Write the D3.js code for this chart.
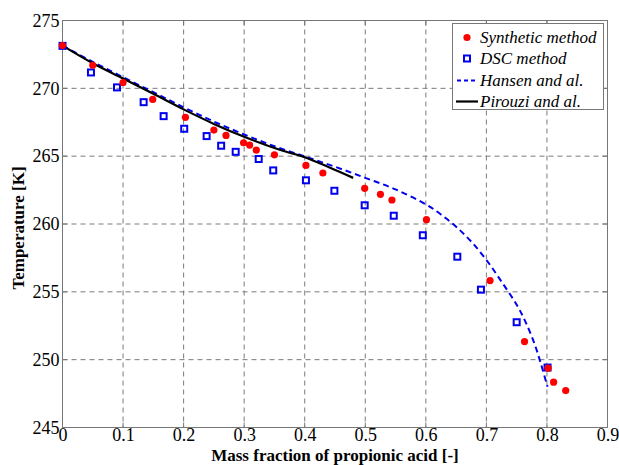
<!DOCTYPE html>
<html><head><meta charset="utf-8">
<script src="https://cdn.jsdelivr.net/npm/d3@7"></script>
<style>body{margin:0;background:#fff}svg{display:block}text{font-family:'Liberation Serif','Times New Roman',serif}</style>
</head><body>
<script>
const synX = [0, 0.05, 0.10, 0.149, 0.203, 0.250, 0.270, 0.299, 0.309, 0.320, 0.350, 0.402, 0.430, 0.499, 0.525, 0.544, 0.601, 0.706, 0.763, 0.802, 0.811, 0.831];
const synT = [273.15, 271.7, 270.43, 269.18, 267.86, 266.92, 266.53, 265.99, 265.82, 265.45, 265.10, 264.32, 263.76, 262.63, 262.19, 261.77, 260.32, 255.83, 251.33, 249.37, 248.34, 247.72];
const dscX = [0, 0.047, 0.090, 0.134, 0.167, 0.201, 0.238, 0.262, 0.286, 0.324, 0.348, 0.402, 0.449, 0.499, 0.547, 0.595, 0.652, 0.691, 0.750, 0.801];
const dscT = [273.13, 271.17, 270.07, 268.98, 267.95, 267.02, 266.48, 265.77, 265.32, 264.79, 263.95, 263.22, 262.45, 261.38, 260.61, 259.17, 257.59, 255.16, 252.76, 249.42];
const hanX = [0, 0.05, 0.10, 0.15, 0.20, 0.25, 0.30, 0.35, 0.40, 0.45, 0.50, 0.55, 0.60, 0.625, 0.65, 0.675, 0.70, 0.725, 0.75, 0.765, 0.78, 0.79, 0.801];
const hanT = [273.15, 271.95, 270.82, 269.72, 268.6, 267.55, 266.6, 265.73, 264.98, 264.22, 263.4, 262.55, 261.45, 260.7, 259.8, 258.7, 257.35, 255.75, 254.05, 252.75, 251.1, 249.7, 248.0];
const pirX = [0, 0.05, 0.10, 0.15, 0.20, 0.25, 0.30, 0.36, 0.40, 0.44, 0.48];
const pirT = [273.15, 271.85, 270.73, 269.6, 268.45, 267.38, 266.43, 265.45, 264.92, 264.18, 263.4];
const xTicks = [0, 0.1, 0.2, 0.3, 0.4, 0.5, 0.6, 0.7, 0.8, 0.9];
const yTicks = [245, 250, 255, 260, 265, 270, 275];
const legendLabels = ["Synthetic method", "DSC method", "Hansen and al.", "Pirouzi and al."];

const W = 619, H = 465;
const m = {l: 62.5, r: 11.5, t: 20.5, b: 37.5};
const svg = d3.select("body").append("svg").attr("width", W).attr("height", H);
const x = d3.scaleLinear().domain([0, 0.9]).range([m.l, W - m.r]);
const y = d3.scaleLinear().domain([245, 275]).range([H - m.b, m.t]);
const serif = "'Liberation Serif','Times New Roman',serif";

// grid
const g = svg.append("g");
g.selectAll(".gx").data(xTicks.slice(1, -1)).enter().append("line")
  .attr("x1", d => x(d)).attr("x2", d => x(d)).attr("y1", m.t).attr("y2", H - m.b)
  .attr("stroke", "#7a7a7a").attr("stroke-width", 1).attr("stroke-dasharray", "5,4");
g.selectAll(".gy").data(yTicks.slice(1, -1)).enter().append("line")
  .attr("y1", d => y(d)).attr("y2", d => y(d)).attr("x1", m.l).attr("x2", W - m.r)
  .attr("stroke", "#7a7a7a").attr("stroke-width", 1).attr("stroke-dasharray", "5,4");

// axes
const xAxis = d3.axisBottom(x).tickValues(xTicks).tickSize(0).tickPadding(1).tickFormat(d => d === 0 ? "0" : d3.format(".1f")(d));
const yAxis = d3.axisLeft(y).tickValues(yTicks).tickSize(0).tickPadding(3).tickFormat(d3.format("d"));
const gx = svg.append("g").attr("transform", `translate(0,${H - m.b})`).call(xAxis);
const gy = svg.append("g").attr("transform", `translate(${m.l},0)`).call(yAxis);
[gx, gy].forEach(a => {
  a.attr("font-family", null).attr("font-size", null);
  a.select(".domain").remove();
  a.selectAll("text").style("font-family", serif).style("font-size", "18px").attr("fill", "#000");
});
// inward ticks
svg.selectAll(".tb").data(xTicks.slice(1, -1)).enter().append("line")
  .attr("x1", d => x(d)).attr("x2", d => x(d)).attr("y1", H - m.b).attr("y2", H - m.b - 5).attr("stroke", "#777");
svg.selectAll(".tt").data(xTicks.slice(1, -1)).enter().append("line")
  .attr("x1", d => x(d)).attr("x2", d => x(d)).attr("y1", m.t).attr("y2", m.t + 5).attr("stroke", "#777");
svg.selectAll(".tl").data(yTicks.slice(1, -1)).enter().append("line")
  .attr("y1", d => y(d)).attr("y2", d => y(d)).attr("x1", m.l).attr("x2", m.l + 5).attr("stroke", "#777");
svg.selectAll(".tr").data(yTicks.slice(1, -1)).enter().append("line")
  .attr("y1", d => y(d)).attr("y2", d => y(d)).attr("x1", W - m.r).attr("x2", W - m.r - 5).attr("stroke", "#777");
// frame
svg.append("rect").attr("x", m.l).attr("y", m.t).attr("width", W - m.r - m.l).attr("height", H - m.b - m.t)
  .attr("fill", "none").attr("stroke", "#777").attr("stroke-width", 1);

// lines
const line = d3.line().x(d => x(d[0])).y(d => y(d[1])).curve(d3.curveCatmullRom.alpha(0.5));
svg.append("path").datum(hanX.map((v, i) => [v, hanT[i]])).attr("d", line)
  .attr("fill", "none").attr("stroke", "#0000ee").attr("stroke-width", 2).attr("stroke-dasharray", "6,4");
svg.append("path").datum(pirX.map((v, i) => [v, pirT[i]])).attr("d", line)
  .attr("fill", "none").attr("stroke", "#000").attr("stroke-width", 2.2);

// points
svg.selectAll(".dsc").data(dscX.map((v, i) => [v, dscT[i]])).enter().append("rect")
  .attr("x", d => x(d[0]) - 3).attr("y", d => y(d[1]) - 3).attr("width", 6).attr("height", 6)
  .attr("fill", "none").attr("stroke", "#0000ee").attr("stroke-width", 2);
svg.selectAll(".syn").data(synX.map((v, i) => [v, synT[i]])).enter().append("circle")
  .attr("cx", d => x(d[0])).attr("cy", d => y(d[1])).attr("r", 3.6).attr("fill", "#ff0000");

// axis titles
svg.append("text").attr("x", (m.l + W - m.r) / 2).attr("y", 461).attr("text-anchor", "middle")
  .style("font-family", serif).style("font-weight", "bold").style("font-size", "17px").text("Mass fraction of propionic acid [-]");
svg.append("text").attr("transform", `translate(24,${(m.t + H - m.b) / 2 + 4}) rotate(-90)`).attr("text-anchor", "middle")
  .style("font-family", serif).style("font-weight", "bold").style("font-size", "17px").text("Temperature [K]");

// legend
const lg = svg.append("g");
lg.append("rect").attr("x", 452.5).attr("y", 23.5).attr("width", 151).attr("height", 86)
  .attr("fill", "#fff").attr("stroke", "#777").attr("stroke-width", 1);
const ly = [37.5, 58.5, 80.5, 101.5];
lg.append("circle").attr("cx", 467).attr("cy", ly[0]).attr("r", 3.6).attr("fill", "#ff0000");
lg.append("rect").attr("x", 464).attr("y", ly[1] - 3).attr("width", 6).attr("height", 6).attr("fill", "none").attr("stroke", "#0000ee").attr("stroke-width", 2);
lg.append("line").attr("x1", 457).attr("x2", 478).attr("y1", ly[2]).attr("y2", ly[2]).attr("stroke", "#0000ee").attr("stroke-width", 2).attr("stroke-dasharray", "4,3");
lg.append("line").attr("x1", 456).attr("x2", 478).attr("y1", ly[3]).attr("y2", ly[3]).attr("stroke", "#000").attr("stroke-width", 2.2);
lg.selectAll(".lt").data(legendLabels).enter().append("text")
  .attr("x", 480).attr("y", (d, i) => ly[i]).attr("dy", "0.33em")
  .style("font-family", serif).style("font-style", "italic").style("font-size", "17px").text(d => d);
</script>
</body></html>
